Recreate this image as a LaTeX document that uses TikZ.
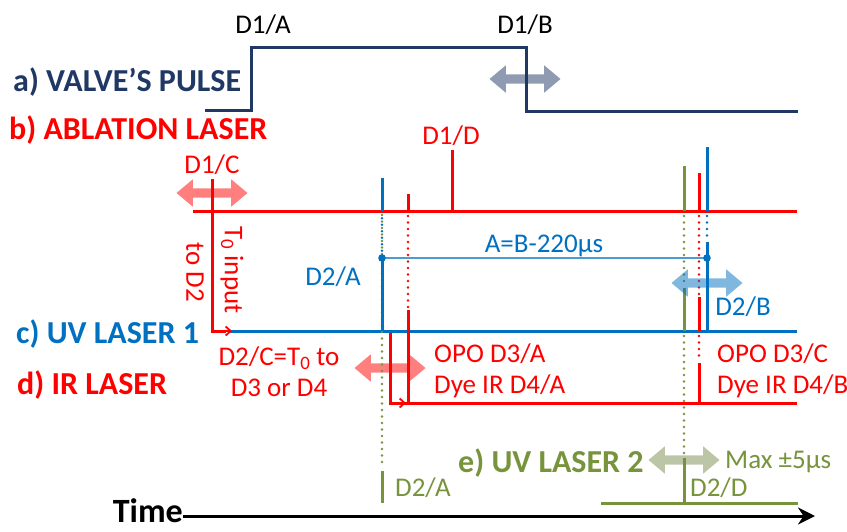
\documentclass[tikz,border=0pt]{standalone}
\usepackage{fontspec}
\setmainfont{Carlito}
\usetikzlibrary{arrows.meta,shapes.arrows}

\definecolor{valvecol}{HTML}{1F3864}
\definecolor{ablred}{HTML}{FF0000}
\definecolor{uvblue}{HTML}{0070C0}
\definecolor{uvgreen}{HTML}{77933C}

\begin{document}
\begin{tikzpicture}[
  x=1pt, y=-1pt,
  lbl/.style={font=\fontsize{27}{31}\selectfont, inner sep=0pt},
  title/.style={font=\fontsize{32}{38}\selectfont\bfseries, inner sep=0pt, anchor=west},
  trace/.style={line width=3pt},
  thinline/.style={line width=1.2pt},
  dotline/.style={line width=2.8pt, line cap=round, dash pattern=on 0pt off 6.5pt},
  shiftarrow/.style={double arrow, double arrow head extend=9pt,
    double arrow tip angle=80, inner sep=4.5pt, minimum height=71pt,
    fill opacity=0.5},
  marker/.style={-{Straight Barb[length=5pt,width=9pt]}, line width=1.8pt}
]
\useasboundingbox (0,0) rectangle (847,531);

% channel labels
\node[title, valvecol] (valvelbl) at (13,82) {a) VALVE’S PULSE};
\node[title, ablred] (abllbl) at (9,130) {b) ABLATION LASER};
\node[title, uvblue] (uv1lbl) at (16,334) {c) UV LASER 1};
\node[title, ablred] (irlbl) at (17,385) {d) IR LASER};
\node[title, uvgreen] (uv2lbl) at (458,463) {e) UV LASER 2};

% a) valve
\draw[trace, valvecol] (205,110) -- (251,110) -- (251,47) -- (526,47) -- (526,111) -- (798,111);
\node[lbl] (d1a) at (263,25) {D1/A};
\node[lbl] (d1b) at (525,25) {D1/B};
\node[shiftarrow, fill=valvecol] (valveshift) at (525,79) {};

% b) ablation
\draw[trace, ablred] (193,211) -- (797,211);
\draw[trace, ablred] (452,150) -- (452,211);
\node[lbl, ablred] (d1d) at (451,136) {D1/D};
\node[lbl, ablred] (d1c) at (212,165) {D1/C};
\node[shiftarrow, fill=ablred] (t0shift) at (212,193) {};

% c) UV laser 1
\draw[trace, uvblue] (228,331) -- (797,331);
\draw[trace, ablred] (212,179) -- (212,331) -- (226,331);
\draw[marker, ablred] (212,331) -- (232,331);
\node[lbl, ablred, rotate=-90] (t0in) at (232,270) {T\textsubscript{0} input};
\node[lbl, ablred, rotate=-90] (tod2) at (195,272) {to D2};

% d) IR laser
\draw[trace, ablred] (390,333) -- (390,403) -- (797,403);
\draw[marker, ablred] (390,403) -- (406,403);
\node[lbl, ablred, align=center] (d2c) at (279,372) {D2/C=T\textsubscript{0} to\\D3 or D4};
\node[shiftarrow, fill=ablred] (d2cshift) at (390,368) {};

% e) UV laser 2
\draw[trace, uvgreen] (601,503) -- (798,503);

% left pulses
\draw[dotline, uvgreen] (382,215) -- (382,468);
\draw[trace, uvgreen] (382,471) -- (382,503);
\draw[trace, uvblue] (382,178) -- (382,211);
\draw[dotline, uvblue, dash phase=3.25pt] (382,215) -- (382,256);
\draw[trace, uvblue] (382,258) -- (382,331);
\draw[trace, ablred] (408,194) -- (408,211);
\draw[dotline, ablred] (408,216) -- (408,308);
\draw[trace, ablred] (408,310) -- (408,403);

% right pulses
\draw[trace, uvgreen] (684,166) -- (684,211);
\draw[dotline, uvgreen] (684,216) -- (684,286);
\draw[trace, uvgreen] (684,288) -- (684,331);
\draw[dotline, uvgreen] (684,336) -- (684,456);
\draw[trace, uvgreen] (684,458) -- (684,503);
\draw[trace, ablred] (699,173) -- (699,211);
\draw[dotline, ablred] (699,216) -- (699,295);
\draw[trace, ablred] (699,297) -- (699,331);
\draw[dotline, ablred] (699,336) -- (699,361);
\draw[trace, ablred] (699,363) -- (699,403);
\draw[trace, uvblue] (707,147) -- (707,211);
\draw[dotline, uvblue] (707,216) -- (707,240);
\draw[trace, uvblue] (707,242) -- (707,331);

% A = B - 220 us
\coordinate (ptA) at (382,258);
\coordinate (ptB) at (707,258);
\draw[thinline, uvblue!70] (ptA) -- (ptB);
\fill[uvblue] (ptA) circle (3.8pt) (ptB) circle (3.8pt);
\node[lbl, uvblue] (abdiff) at (544,246) {A=B-220μs};
\node[lbl, uvblue] (d2a) at (333,277) {D2/A};
\node[lbl, uvblue] (d2b) at (743,307) {D2/B};
\node[shiftarrow, fill=uvblue] (d2bshift) at (707,283) {};

\node[lbl, ablred, anchor=west, align=left] (opoa) at (434,371) {OPO D3/A\\Dye IR D4/A};
\node[lbl, ablred, anchor=west, align=left] (opoc) at (717,371) {OPO D3/C\\Dye IR D4/B};

\node[lbl, uvgreen, anchor=west] (d2agr) at (395,488) {D2/A};
\node[lbl, uvgreen, anchor=west] (d2d) at (690,488) {D2/D};
\node[lbl, uvgreen, anchor=west] (maxjit) at (725,462) {Max ±5μs};
\node[shiftarrow, fill=uvgreen!75!gray] (d2dshift) at (684,460) {};

% time axis
\node[font=\fontsize{34}{40}\selectfont\bfseries, inner sep=0pt, anchor=east] (timelbl) at (183,511) {Time};
\coordinate (tend) at (815,516);
\draw[line width=3pt, -{Stealth[length=17pt,width=17pt]}] (timelbl.east |- tend) -- (tend);
\end{tikzpicture}
\end{document}
